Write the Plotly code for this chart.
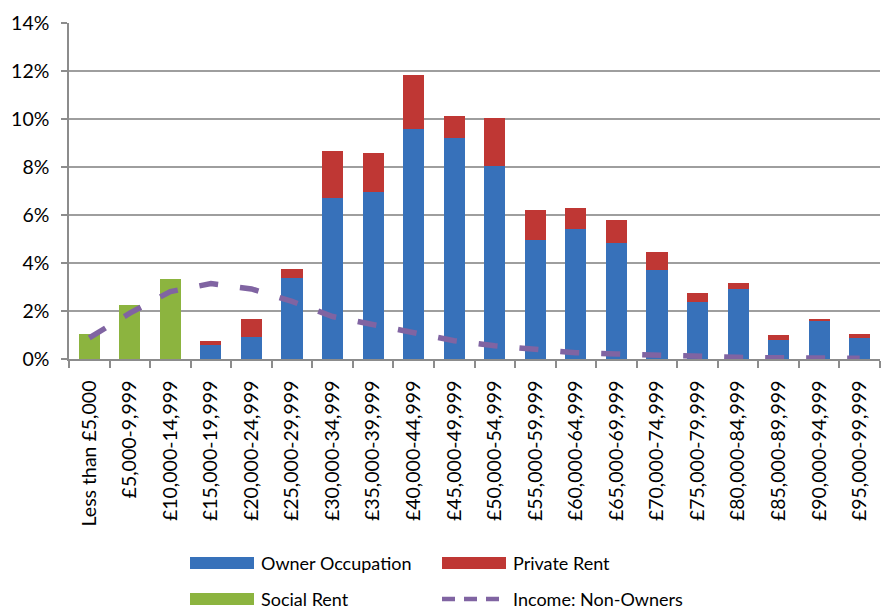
import plotly.graph_objects as go

# Household income bands
bands = [
    "Less than £5,000", "£5,000-9,999", "£10,000-14,999", "£15,000-19,999",
    "£20,000-24,999", "£25,000-29,999", "£30,000-34,999", "£35,000-39,999",
    "£40,000-44,999", "£45,000-49,999", "£50,000-54,999", "£55,000-59,999",
    "£60,000-64,999", "£65,000-69,999", "£70,000-74,999", "£75,000-79,999",
    "£80,000-84,999", "£85,000-89,999", "£90,000-94,999", "£95,000-99,999",
]

# Share of households (%) in each band, by tenure
owner_occupation = [None, None, None, 0.57, 0.90, 3.39, 6.72, 6.96, 9.58, 9.22,
                    8.04, 4.96, 5.42, 4.84, 3.71, 2.38, 2.92, 0.80, 1.59, 0.89]
private_rent = [None, None, None, 0.16, 0.78, 0.38, 1.94, 1.62, 2.24, 0.90,
                1.99, 1.25, 0.87, 0.95, 0.75, 0.38, 0.25, 0.21, 0.09, 0.16]
social_rent = [1.06, 2.26, 3.34, None, None, None, None, None, None, None,
               None, None, None, None, None, None, None, None, None, None]
income_non_owners = [0.88, 1.91, 2.81, 3.14, 2.92, 2.40, 1.77, 1.43, 1.08, 0.76,
                     0.55, 0.40, 0.26, 0.21, 0.15, 0.10, 0.07, 0.05, 0.04, 0.03]

y_ticks = [0, 2, 4, 6, 8, 10, 12, 14]

BLUE = "#3771BA"
RED = "#BF3734"
GREEN = "#8CB43F"
PURPLE = "#8064A2"
FONT = "Lato"
FS = 19.5
LEGEND_FS = 18

W, H = 883, 612
ML, MR, MT, MB = 69, 3, 23, 253

fig = go.Figure()
fig.add_trace(go.Bar(x=bands, y=owner_occupation, name="Owner Occupation",
                     marker=dict(color=BLUE, line=dict(width=0))))
fig.add_trace(go.Bar(x=bands, y=private_rent, name="Private Rent",
                     marker=dict(color=RED, line=dict(width=0))))
fig.add_trace(go.Bar(x=bands, y=social_rent, name="Social Rent",
                     marker=dict(color=GREEN, line=dict(width=0))))
fig.add_trace(go.Scatter(x=bands, y=income_non_owners, name="Income: Non-Owners",
                         mode="lines",
                         line=dict(color=PURPLE, width=5.5, dash="19px,22px")))

fig.update_layout(
    width=W, height=H,
    margin=dict(l=ML, r=MR, t=MT, b=MB),
    paper_bgcolor="white", plot_bgcolor="white",
    barmode="stack", bargap=0.48,
    showlegend=False,
    font=dict(family=FONT, size=FS, color="#000000"),
)
fig.update_xaxes(
    type="category", tickangle=-90, tickson="boundaries",
    ticks="outside", ticklen=7, tickcolor="#8C8C8C", tickwidth=1.5,
    showline=True, linecolor="#8C8C8C", linewidth=1.5,
    showgrid=False, ticklabelstandoff=12,
    tickfont=dict(family=FONT, size=FS),
)
fig.update_yaxes(
    range=[0, 14], tickvals=y_ticks, ticktext=[f"{v}%" for v in y_ticks],
    ticks="outside", ticklen=6, tickcolor="#8C8C8C", tickwidth=1.5,
    showline=True, linecolor="#8C8C8C", linewidth=1.5,
    showgrid=True, gridcolor="#9E9E9E", gridwidth=1.5,
    zeroline=False, ticklabelstandoff=8,
    tickfont=dict(family=FONT, size=FS),
)

# Legend below the axis: wide colour swatches with labels in two columns.
# Paper coordinates are relative to the plot area, so convert from pixels.
plot_w = W - ML - MR
plot_h = H - MT - MB


def px_x(v):
    return (v - ML) / plot_w


def px_y(v):
    return (H - MB - v) / plot_h


legend_items = [
    ("Owner Occupation", BLUE, 190, 563, "bar"),
    ("Private Rent", RED, 442, 563, "bar"),
    ("Social Rent", GREEN, 190, 599, "bar"),
    ("Income: Non-Owners", PURPLE, 442, 599, "line"),
]
for label, color, x0, yc, kind in legend_items:
    if kind == "bar":
        fig.add_shape(type="rect", xref="paper", yref="paper",
                      x0=px_x(x0), x1=px_x(x0 + 64),
                      y0=px_y(yc + 6), y1=px_y(yc - 6),
                      fillcolor=color, line=dict(width=0))
    else:
        fig.add_shape(type="line", xref="paper", yref="paper",
                      x0=px_x(x0), x1=px_x(x0 + 58),
                      y0=px_y(yc), y1=px_y(yc),
                      line=dict(color=color, width=4.5, dash="13px,9px"))
    fig.add_annotation(text=label, xref="paper", yref="paper",
                       x=px_x(x0 + 69), y=px_y(yc), xanchor="left", yanchor="middle",
                       showarrow=False,
                       font=dict(family=FONT, size=LEGEND_FS, color="#000000"))

fig.write_html("out.html")
